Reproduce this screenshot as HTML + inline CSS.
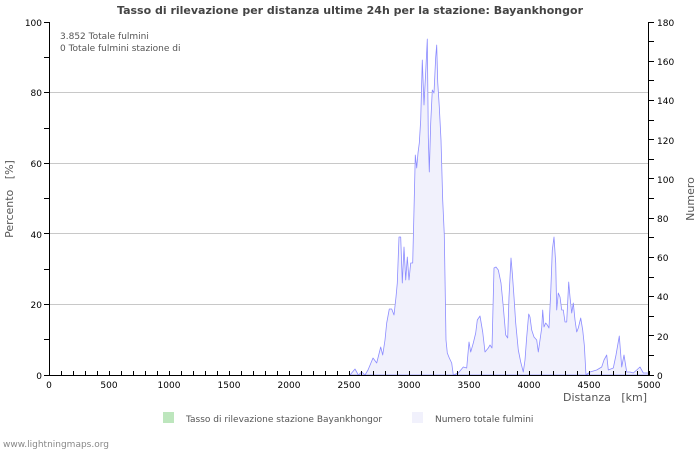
<!DOCTYPE html>
<html><head><meta charset="utf-8"><style>
body{margin:0;background:#fff;}
svg{display:block;font-family:"DejaVu Sans","Liberation Sans",sans-serif;}
</style></head><body>
<svg width="700" height="450" viewBox="0 0 700 450" xmlns="http://www.w3.org/2000/svg">
<rect width="700" height="450" fill="#fff"/>
<text x="350" y="14" text-anchor="middle" font-size="11" font-weight="bold" fill="#444">Tasso di rilevazione per distanza ultime 24h per la stazione: Bayankhongor</text>
<g stroke="#c8c8c8" stroke-width="1">
<line x1="49" y1="304.5" x2="649" y2="304.5"/><line x1="49" y1="233.5" x2="649" y2="233.5"/><line x1="49" y1="163.5" x2="649" y2="163.5"/><line x1="49" y1="92.5" x2="649" y2="92.5"/>
</g>
<polygon fill="#f1f1fc" stroke="#8c8cff" stroke-width="0.8" stroke-linejoin="round" points="350,375 355,369 358.3,375 361.7,372 365,375 368,370 373,358 376.7,363 380.7,347 382.7,355 385,340 386.7,323 389.3,309 391.7,309 394,315 396,297 397.3,283 399,237 400.7,237 402.3,283 404,247 405.7,280 407.3,257 409,280 410.7,263 412.7,263 414,210 415.3,155 416.7,168 418,153 419.3,143 420.7,120 422.3,60 424,105 425.7,72 427.3,39 428.3,137 429.3,172 430.7,123 432.3,90 434,93 435.7,57 436.7,45 437.7,82 439.3,107 441,140 442.7,200 444.3,235 446,340 447.3,353 449.3,358 451.7,363 453.3,375 458.3,373 463.3,367 466.7,368 469,342 470.7,352 473.3,343 475.7,333 477.3,320 480,316 482.7,332 485,352 488.3,348 490,345 492,348 494,268 496,267 498.3,270 501,283 503.3,307 505.7,335 507.7,338 509,297 511,258 512.3,273 514,297 515.7,323 518.3,350 520.7,362 523.3,372 525,360 526.7,337 528.7,314 530,317 531.7,330 534,337 536.7,340 538.3,352 540,340 541.7,328 542.7,310 544,327 545.7,323 547.3,325 549,328 550.7,293 552.3,250 554,237 555.7,263 556.7,310 558.3,293 560,297 561.7,310 563.3,310 565,322 566.7,322 568.7,282 570,297 571.7,313 573.3,303 575,320 576.7,332 578.3,328 580.7,318 582.7,330 584.3,345 586,375 590,372 596.7,370 601.7,367 604,360 606.7,355 608.3,370 613.3,368 616,355 619.3,336 621.7,367 624,355 626.7,372 630,372 633.3,373 636.7,370 640,367 643.3,373 648.3,373 649,375"/>
<g stroke="#000" stroke-width="1" fill="none">
<line x1="49.5" y1="22" x2="49.5" y2="375"/>
<line x1="648.5" y1="22" x2="648.5" y2="375"/>
<line x1="49" y1="375.5" x2="649" y2="375.5"/>
<path d="M49.5 375v-4M61.5 375v-4M73.5 375v-4M85.5 375v-4M97.5 375v-4M109.5 375v-4M121.5 375v-4M133.5 375v-4M145.5 375v-4M157.5 375v-4M169.5 375v-4M181.5 375v-4M193.5 375v-4M205.5 375v-4M217.5 375v-4M229.5 375v-4M241.5 375v-4M253.5 375v-4M265.5 375v-4M277.5 375v-4M289.5 375v-4M301.5 375v-4M313.5 375v-4M325.5 375v-4M337.5 375v-4M349.5 375v-4M361.5 375v-4M373.5 375v-4M385.5 375v-4M397.5 375v-4M409.5 375v-4M421.5 375v-4M433.5 375v-4M445.5 375v-4M457.5 375v-4M469.5 375v-4M481.5 375v-4M493.5 375v-4M505.5 375v-4M517.5 375v-4M529.5 375v-4M541.5 375v-4M553.5 375v-4M565.5 375v-4M577.5 375v-4M589.5 375v-4M601.5 375v-4M613.5 375v-4M625.5 375v-4M637.5 375v-4M649.5 375v-4"/>
<path d="M44 375.5h5M44 339.5h5M44 304.5h5M44 269.5h5M44 233.5h5M44 198.5h5M44 163.5h5M44 128.5h5M44 92.5h5M44 57.5h5M44 22.5h5"/>
<path d="M649 375.5h5M649 355.5h5M649 335.5h5M649 316.5h5M649 296.5h5M649 277.5h5M649 257.5h5M649 237.5h5M649 218.5h5M649 198.5h5M649 178.5h5M649 159.5h5M649 139.5h5M649 120.5h5M649 100.5h5M649 80.5h5M649 61.5h5M649 41.5h5M649 22.5h5"/>
</g>
<g font-size="9" fill="#000" text-anchor="end">
<text x="42" y="379">0</text><text x="42" y="308">20</text><text x="42" y="238">40</text><text x="42" y="167">60</text><text x="42" y="96">80</text><text x="42" y="26">100</text>
</g>
<g font-size="9" fill="#000" text-anchor="start">
<text x="657" y="379">0</text><text x="657" y="340">20</text><text x="657" y="300">40</text><text x="657" y="261">60</text><text x="657" y="222">80</text><text x="657" y="183">100</text><text x="657" y="144">120</text><text x="657" y="104">140</text><text x="657" y="65">160</text><text x="657" y="26">180</text>
</g>
<g font-size="9" fill="#000" text-anchor="middle">
<text x="49" y="388">0</text><text x="109" y="388">500</text><text x="169" y="388">1000</text><text x="229" y="388">1500</text><text x="289" y="388">2000</text><text x="349" y="388">2500</text><text x="409" y="388">3000</text><text x="469" y="388">3500</text><text x="529" y="388">4000</text><text x="589" y="388">4500</text><text x="649" y="388">5000</text>
</g>
<text x="647" y="401" text-anchor="end" font-size="11" fill="#555">Distanza&#160;&#160;&#160;[km]</text>
<text transform="translate(13,199) rotate(-90)" text-anchor="middle" font-size="11" fill="#555">Percento&#160;&#160;&#160;[%]</text>
<text transform="translate(694,199) rotate(-90)" text-anchor="middle" font-size="11" fill="#555">Numero</text>
<text x="60" y="39" font-size="9" fill="#555">3.852 Totale fulmini</text>
<text x="60" y="51" font-size="9" fill="#555">0 Totale fulmini stazione di</text>
<rect x="163" y="412" width="11" height="11" fill="#bde6bd"/>
<text x="186" y="422" font-size="9" fill="#555">Tasso di rilevazione stazione Bayankhongor</text>
<rect x="412" y="412" width="11" height="11" fill="#f1f1fc"/>
<text x="435" y="422" font-size="9" fill="#555">Numero totale fulmini</text>
<text x="3" y="447" font-size="9" fill="#888">www.lightningmaps.org</text>
</svg>
</body></html>
